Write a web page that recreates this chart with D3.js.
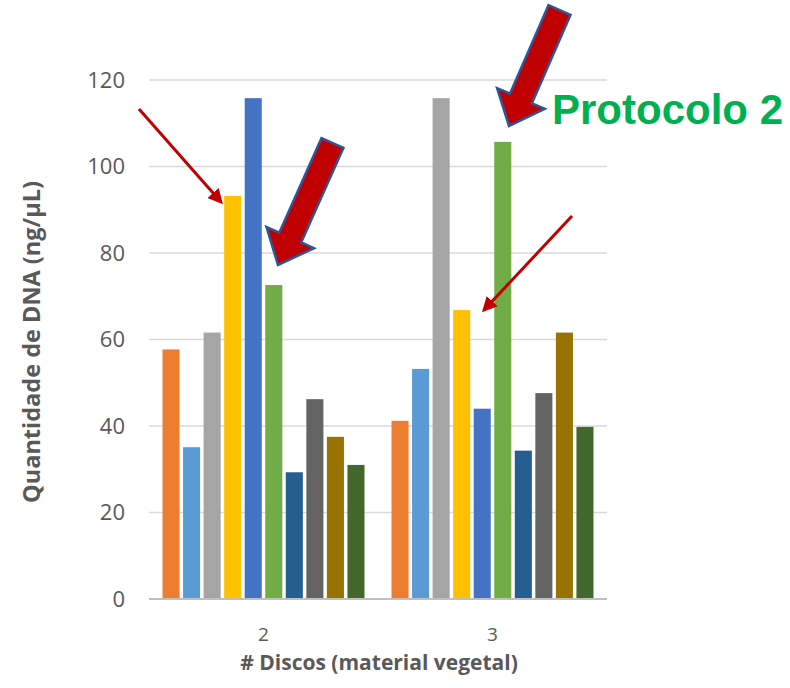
<!DOCTYPE html>
<html>
<head>
<meta charset="utf-8">
<script src="https://cdn.jsdelivr.net/npm/d3@7"></script>
<style>
  html, body { margin: 0; padding: 0; background: #ffffff; }
  svg { display: block; }
</style>
</head>
<body>
<svg id="chart" width="790" height="688"></svg>
<script>
// ---- Data ----
const categories = ["2", "3"];
const seriesNames = ["S1", "S2", "S3", "S4", "S5", "S6", "S7", "S8", "S9", "S10"];
const seriesColors = ["#ED7D31", "#5B9BD5", "#A5A5A5", "#FFC000", "#4472C4", "#70AD47", "#255E91", "#636363", "#997300", "#43682B"];
const valuesDiscos2 = [57.7, 35.1, 61.6, 93.2, 115.8, 72.6, 29.3, 46.2, 37.5, 31.0];
const valuesDiscos3 = [41.2, 53.2, 115.8, 66.8, 44.0, 105.7, 34.3, 47.6, 61.6, 39.8];
const yTicks = [0, 20, 40, 60, 80, 100, 120];
const xTitle = "# Discos (material vegetal)";
const yTitle = "Quantidade de DNA (ng/µL)";
const annotationText = "Protocolo 2";

const table = categories.map((c, i) => ({
  cat: c,
  values: (i === 0 ? valuesDiscos2 : valuesDiscos3).map((v, j) => ({ s: seriesNames[j], v }))
}));

// ---- Layout ----
const svg = d3.select("#chart");
const plot = { left: 149, right: 607, top: 80, bottom: 599 };
const FONT = "'Open Sans', 'Liberation Sans', sans-serif";

const x0 = d3.scaleBand().domain(categories).range([plot.left, plot.right])
  .paddingInner(0.118).paddingOuter(0.059);
const x1 = d3.scaleBand().domain(seriesNames).range([0, x0.bandwidth()])
  .paddingInner(0.17).paddingOuter(0);
const y = d3.scaleLinear().domain([0, 120]).range([plot.bottom, plot.top]);
const color = d3.scaleOrdinal().domain(seriesNames).range(seriesColors);

// gridlines
svg.append("g").selectAll("line").data(yTicks.filter(t => t > 0)).join("line")
  .attr("x1", plot.left).attr("x2", plot.right)
  .attr("y1", d => y(d)).attr("y2", d => y(d))
  .attr("stroke", "#D9D9D9").attr("stroke-width", 1.5);

// bars
const groups = svg.append("g").selectAll("g").data(table).join("g")
  .attr("transform", d => `translate(${x0(d.cat)},0)`);
groups.selectAll("rect").data(d => d.values).join("rect")
  .attr("x", d => x1(d.s))
  .attr("width", x1.bandwidth())
  .attr("y", d => y(d.v))
  .attr("height", d => y(0) - y(d.v))
  .attr("fill", d => color(d.s));

// baseline
svg.append("line")
  .attr("x1", plot.left).attr("x2", plot.right)
  .attr("y1", y(0)).attr("y2", y(0))
  .attr("stroke", "#BFBFBF").attr("stroke-width", 2);

// y axis
const yAxis = d3.axisLeft(y).tickValues(yTicks).tickSize(0).tickPadding(24);
const gy = svg.append("g").attr("transform", `translate(${plot.left},0)`).call(yAxis);
gy.select(".domain").remove();
gy.selectAll("text").attr("fill", "#595959")
  .style("font-family", FONT).style("font-size", "22px");

// x axis
const xAxis = d3.axisBottom(x0).tickSize(0).tickPadding(29);
const gx = svg.append("g").attr("transform", `translate(0,${plot.bottom})`).call(xAxis);
gx.select(".domain").remove();
gx.selectAll("text").attr("fill", "#595959")
  .style("font-family", FONT).style("font-size", "19px");

// axis titles
svg.append("text").attr("x", 379).attr("y", 670)
  .attr("text-anchor", "middle").attr("fill", "#595959")
  .style("font-family", FONT).style("font-size", "21px").style("font-weight", "bold")
  .text(xTitle);
svg.append("text").attr("transform", "translate(40,342) rotate(-90)")
  .attr("text-anchor", "middle").attr("fill", "#595959")
  .style("font-family", FONT).style("font-size", "23.5px").style("font-weight", "bold")
  .text(yTitle);

// ---- Annotations ----
const defs = svg.append("defs");
defs.append("marker").attr("id", "head").attr("viewBox", "0 0 10 10")
  .attr("refX", 8).attr("refY", 5).attr("markerWidth", 5).attr("markerHeight", 5)
  .attr("markerUnits", "strokeWidth").attr("orient", "auto")
  .append("path").attr("d", "M0,0 L10,5 L0,10 Z").attr("fill", "#C00000");

const thinArrows = [
  { from: [139, 109], to: [221, 202] },
  { from: [572, 216], to: [484, 310] }
];
svg.append("g").selectAll("line").data(thinArrows).join("line")
  .attr("x1", d => d.from[0]).attr("y1", d => d.from[1])
  .attr("x2", d => d.to[0]).attr("y2", d => d.to[1])
  .attr("stroke", "#C00000").attr("stroke-width", 3)
  .attr("marker-end", "url(#head)");

function blockArrow(tail, tip, shaftW, headW, headL) {
  const dx = tip[0] - tail[0], dy = tip[1] - tail[1];
  const L = Math.hypot(dx, dy);
  const ux = dx / L, uy = dy / L;
  const px = -uy, py = ux;
  const bx = tip[0] - ux * headL, by = tip[1] - uy * headL;
  const pts = [
    [tail[0] + px * shaftW / 2, tail[1] + py * shaftW / 2],
    [bx + px * shaftW / 2, by + py * shaftW / 2],
    [bx + px * headW / 2, by + py * headW / 2],
    tip,
    [bx - px * headW / 2, by - py * headW / 2],
    [bx - px * shaftW / 2, by - py * shaftW / 2],
    [tail[0] - px * shaftW / 2, tail[1] - py * shaftW / 2]
  ];
  return "M" + pts.map(p => p.join(",")).join("L") + "Z";
}
const blockArrows = [
  { tail: [332.5, 143], tip: [278, 265] },
  { tail: [559.5, 10], tip: [509, 126] }
];
svg.append("g").selectAll("path").data(blockArrows).join("path")
  .attr("d", d => blockArrow(d.tail, d.tip, 24, 52, 30))
  .attr("fill", "#C00000").attr("stroke", "#2F5597").attr("stroke-width", 2.5)
  .attr("stroke-linejoin", "miter");

svg.append("text").attr("x", 552).attr("y", 124)
  .attr("fill", "#00B050")
  .style("font-family", "'Liberation Sans', Arial, sans-serif").style("font-size", "42px").style("font-weight", "bold")
  .text(annotationText);
</script>
</body>
</html>
